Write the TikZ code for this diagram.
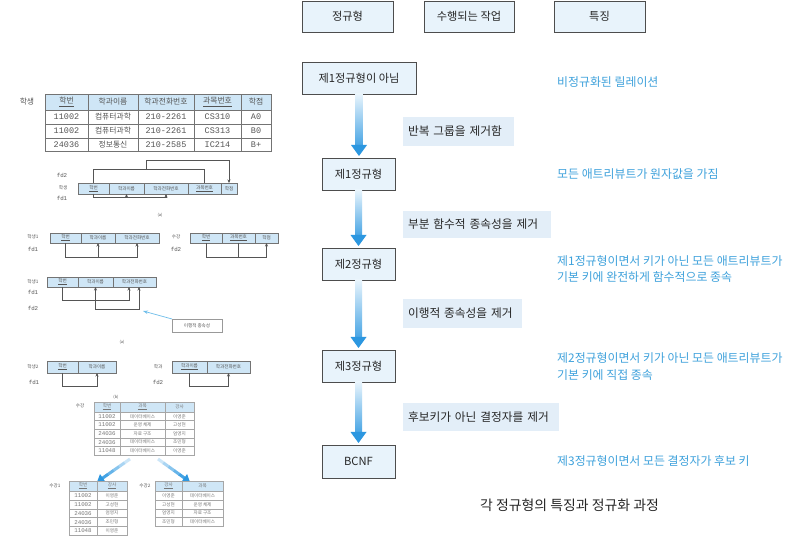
\documentclass[tikz,border=0pt]{standalone}
\usepackage{fontspec}
\setmainfont{Noto Sans CJK KR}
\newfontfamily\monof{Liberation Mono}
\usetikzlibrary{arrows.meta,calc}
\definecolor{lbfill}{HTML}{CFE6F6}
\definecolor{bxfill}{HTML}{E8F3FB}
\definecolor{actfill}{HTML}{E3EEF8}
\definecolor{bluetxt}{HTML}{3FA2DC}
\definecolor{arrdark}{HTML}{2C97E0}
\definecolor{arrlight}{HTML}{E8F4FC}
\definecolor{bordr}{HTML}{4D4D4D}
\definecolor{tgray}{HTML}{555555}
\definecolor{lgray}{HTML}{777777}
\definecolor{lbarrow}{HTML}{6DBDEA}
\newcommand\mkcell[7][]{\node[cellst,#1,minimum width={(#5-#3)*1pt},minimum height={(#6-#4)*1pt}] (#2) at ({(#3+#5)/2},{(#4+#6)/2}) {#7};}
\newcommand\bigarr[2]{%
  \shade[top color=arrlight,bottom color=arrdark!85!arrlight] let \p1=(#1.south), \p2=(#2.north) in (\x1-3.5pt,\y1) rectangle (\x1+3.5pt,\y2+12.5pt);
  \fill[arrdark] let \p1=(#1.south), \p2=(#2.north) in (\x1-8pt,\y2+13pt) -- (\x1+8pt,\y2+13pt) -- (\x1,\y2+2pt) -- cycle;}
\begin{document}
\begin{tikzpicture}[x=1pt,y=-1pt,
 cellst/.style={draw=gray!90!black,line width=0.5pt,inner sep=0pt,outer sep=0pt,text=tgray},
 hd/.style={fill=lbfill},
 kA/.style={font=\fontsize{7.8}{8}\selectfont},
 mA/.style={font=\monof\fontsize{8.5}{9}\selectfont},
 kB/.style={font=\fontsize{4.6}{5}\selectfont},
 mB/.style={font=\monof\fontsize{5.8}{6}\selectfont},
 lt/.style={draw=gray!70,text=lgray},
 lbl/.style={text=tgray,inner sep=0pt},
 fdl/.style={draw=tgray,line width=0.5pt},
 fda/.style={fdl,-{Stealth[length=3.5pt,width=3pt]}},
 rbox/.style={cellst,draw=bordr,line width=0.9pt,fill=bxfill,text=black!85,font=\fontsize{11.2}{12}\selectfont},
 actbox/.style={fill=actfill,inner xsep=5pt,inner ysep=0pt,align=left,text=black!85,font=\fontsize{11.7}{12}\selectfont},
 btxt/.style={text=bluetxt,anchor=west,inner sep=0pt,align=left,font=\fontsize{11.9}{16.5}\selectfont},
 capt/.style={lbl,font=\fontsize{4}{5}\selectfont}
]
\useasboundingbox (0,0) rectangle (796,537);
\fill[white] (0,0) rectangle (796,537);

%% ---------- Table 1 ----------
\node[lbl,kA] (t1l) at (27,102) {학생};
\mkcell[hd,kA]{h1}{45}{94}{88}{110}{\underline{학번}}
\mkcell[hd,kA]{h2}{88}{94}{138}{110}{학과이름}
\mkcell[hd,kA]{h3}{138}{94}{194}{110}{학과전화번호}
\mkcell[hd,kA]{h4}{194}{94}{241}{110}{\underline{과목번호}}
\mkcell[hd,kA]{h5}{241}{94}{271}{110}{학점}
\foreach \ri/\ya/\yb/\va/\vb/\vc/\vd/\ve in {1/110/124/11002/컴퓨터과학/210-2261/CS310/A0,2/124/138/11002/컴퓨터과학/210-2261/CS313/B0,3/138/151/24036/정보통신/210-2585/IC214/B+}{
 \mkcell[mA]{r\ri a}{45}{\ya}{88}{\yb}{\va}
 \mkcell[kA]{r\ri b}{88}{\ya}{138}{\yb}{\vb}
 \mkcell[mA]{r\ri c}{138}{\ya}{194}{\yb}{\vc}
 \mkcell[mA]{r\ri d}{194}{\ya}{241}{\yb}{\vd}
 \mkcell[mA]{r\ri e}{241}{\ya}{271}{\yb}{\ve}
}

%% ---------- (a) dependency diagram ----------
\node[lbl,mB] (afd2) at (62,175) {fd2};
\node[lbl,kB] (alb) at (63,188) {학생};
\node[lbl,mB] (afd1) at (62,198) {fd1};
\mkcell[hd,kB]{a1}{78}{183}{109}{194}{\underline{학번}}
\mkcell[hd,kB]{a2}{109}{183}{144}{194}{학과이름}
\mkcell[hd,kB]{a3}{144}{183}{188}{194}{학과전화번호}
\mkcell[hd,kB]{a4}{188}{183}{221}{194}{\underline{과목번호}}
\mkcell[hd,kB]{a5}{221}{183}{237}{194}{학점}
\coordinate (ya2) at (0,169);
\coordinate (ya3) at (0,160);
\coordinate (ya1) at (0,197);
\coordinate (am) at (146,169);
\draw[fdl] (a1.north) -- (a1.north |- ya2) -- (a4.north |- ya2) -- (a4.north);
\draw[fda] (am) -- (am |- ya3) -- (a5.north |- ya3) -- (a5.north);
\draw[fda] (a1.south) -- (a1.south |- ya1) -- (a3.south |- ya1) -- (a3.south);
\draw[fda] (a2.south |- ya1) -- (a2.south);
\node[capt] (capa1) at (160,215) {(a)};

%% ---------- 2NF ----------
\node[lbl,kB] (blb) at (33,237) {학생1};
\node[lbl,mB] (bfd1) at (33,249) {fd1};
\mkcell[hd,kB]{b1}{50}{233}{81}{243}{\underline{학번}}
\mkcell[hd,kB]{b2}{81}{233}{115}{243}{학과이름}
\mkcell[hd,kB]{b3}{115}{233}{159}{243}{학과전화번호}
\coordinate (yb1) at (0,257);
\draw[fda] (b1.south) -- (b1.south |- yb1) -- (b3.south |- yb1) -- (b3.south);
\draw[fda] (b2.south |- yb1) -- (b2.south);
\node[lbl,kB] (clb) at (176,237) {수강};
\node[lbl,mB] (cfd2) at (176,249) {fd2};
\mkcell[hd,kB]{c1}{190}{233}{222}{243}{\underline{학번}}
\mkcell[hd,kB]{c2}{222}{233}{255}{243}{\underline{과목번호}}
\mkcell[hd,kB]{c3}{255}{233}{278}{243}{학점}
\draw[fda] (c1.south) -- (c1.south |- yb1) -- (c3.south |- yb1) -- (c3.south);
\draw[fdl] (c2.south) -- (c2.south |- yb1);

%% ---------- transitive ----------
\node[lbl,kB] (dlb) at (33,282) {학생1};
\node[lbl,mB] (dfd1) at (33,292) {fd1};
\node[lbl,mB] (dfd2) at (33,308) {fd2};
\mkcell[hd,kB]{d1}{47}{277}{78}{287}{\underline{학번}}
\mkcell[hd,kB]{d2}{78}{277}{113}{287}{학과이름}
\mkcell[hd,kB]{d3}{113}{277}{156}{287}{학과전화번호}
\coordinate (yd1) at (0,300);
\coordinate (yd2) at (0,309);
\coordinate (d3a) at ($(d3.south)+(-5.5,0)$);
\coordinate (d3b) at ($(d3.south)+(4.5,0)$);
\draw[fda] (d1.south) -- (d1.south |- yd1) -- (d3a |- yd1) -- (d3a);
\draw[fda] (d2.south |- yd1) -- (d2.south);
\draw[fda] (d2.south |- yd1) -- (d2.south |- yd2) -- (d3b |- yd2) -- (d3b);
\mkcell[kB,draw=gray!80]{td}{172}{319}{222}{332}{이행적 종속성}
\coordinate (tdtip) at (143,311);
\draw[draw=lbarrow,line width=0.7pt,-{Stealth[length=5pt,width=3.5pt]}] (td.north west) -- (tdtip);
\node[capt] (capa2) at (122,342) {(a)};

%% ---------- (b) ----------
\node[lbl,kB] (elb) at (33,367) {학생2};
\node[lbl,mB] (efd1) at (34,382) {fd1};
\mkcell[hd,kB]{e1}{47}{361}{78}{373}{\underline{학번}}
\mkcell[hd,kB]{e2}{78}{361}{116}{373}{학과이름}
\coordinate (ye1) at (0,386);
\draw[fda] (e1.south) -- (e1.south |- ye1) -- (e2.south |- ye1) -- (e2.south);
\node[lbl,kB] (flb) at (158,367) {학과};
\node[lbl,mB] (ffd2) at (158,382) {fd2};
\mkcell[hd,kB]{f1}{172}{361}{207}{373}{\underline{학과이름}}
\mkcell[hd,kB]{f2}{207}{361}{250}{373}{학과전화번호}
\draw[fda] (f1.south) -- (f1.south |- ye1) -- (f2.south |- ye1) -- (f2.south);
\node[capt] (capb) at (116,397) {(b)};

%% ---------- 수강 tables ----------
\node[lbl,kB] (glb) at (80,406) {수강};
\mkcell[hd,kB,lt]{g1}{94}{402}{120}{412}{\underline{학번}}
\mkcell[hd,kB,lt]{g2}{120}{402}{165}{412}{\underline{과목}}
\mkcell[hd,kB,lt]{g3}{165}{402}{194}{412}{강사}
\foreach \ri/\ya/\yb/\va/\vb/\vc in {1/412/420.6/11002/데이터베이스/이영준,2/420.6/429.2/11002/운영 체제/고성현,3/429.2/437.8/24036/자료 구조/엄영지,4/437.8/446.4/24036/데이터베이스/조민형,5/446.4/455/11048/데이터베이스/이영준}{
 \mkcell[mB,lt]{g\ri a}{94}{\ya}{120}{\yb}{\va}
 \mkcell[kB,lt]{g\ri b}{120}{\ya}{165}{\yb}{\vb}
 \mkcell[kB,lt]{g\ri c}{165}{\ya}{194}{\yb}{\vc}
}
\coordinate (sA1) at (130,459);
\coordinate (sB1) at (97,482);
\coordinate (sA2) at (158,459);
\coordinate (sB2) at (190,482);
\foreach \ff/\tt in {sA1/sB1,sA2/sB2}{
 \foreach \i in {0,...,4}{
  \pgfmathsetmacro\pa{\i/6}
  \pgfmathsetmacro\pb{(\i+1)/6+0.01}
  \pgfmathsetmacro\cc{15+\i*18}
  \draw[line width=3pt,arrdark!\cc!arrlight] ($(\ff)!\pa!(\tt)$) -- ($(\ff)!\pb!(\tt)$);
 }
 \draw[line width=3pt,arrdark,-{Triangle[length=7pt,width=9pt]}] ($(\ff)!0.8333!(\tt)$) -- (\tt);
}
\node[lbl,kB] (hlb) at (55,486) {수강1};
\mkcell[hd,kB,lt]{k1}{69}{481}{97}{491}{\underline{학번}}
\mkcell[hd,kB,lt]{k2}{97}{481}{127}{491}{\underline{강사}}
\foreach \ri/\ya/\yb/\va/\vb in {1/491/499.9/11002/이영준,2/499.9/508.8/11002/고성현,3/508.8/517.7/24036/엄영지,4/517.7/526.6/24036/조민형,5/526.6/535.5/11048/이영준}{
 \mkcell[mB,lt]{k\ri a}{69}{\ya}{97}{\yb}{\va}
 \mkcell[kB,lt]{k\ri b}{97}{\ya}{127}{\yb}{\vb}
}
\node[lbl,kB] (mlb) at (145,486) {수강2};
\mkcell[hd,kB,lt]{m1}{155}{481}{182}{491}{\underline{강사}}
\mkcell[hd,kB,lt]{m2}{182}{481}{223}{491}{과목}
\foreach \ri/\ya/\yb/\va/\vb in {1/491/499.9/이영준/데이터베이스,2/499.9/508.8/고성현/운영 체제,3/508.8/517.7/엄영지/자료 구조,4/517.7/526.6/조민형/데이터베이스}{
 \mkcell[kB,lt]{m\ri a}{155}{\ya}{182}{\yb}{\va}
 \mkcell[kB,lt]{m\ri b}{182}{\ya}{223}{\yb}{\vb}
}

%% ---------- right side ----------
\mkcell[rbox]{hdA}{302}{1}{393}{32}{정규형}
\mkcell[rbox]{hdB}{424}{1}{514}{32}{수행되는 작업}
\mkcell[rbox]{hdC}{554}{1}{645}{32}{특징}
\mkcell[rbox]{nf0}{302}{62}{416}{94}{제1정규형이 아님}
\mkcell[rbox]{nf1}{322}{158}{395}{190}{제1정규형}
\mkcell[rbox]{nf2}{322}{248}{395}{280}{제2정규형}
\mkcell[rbox]{nf3}{322}{350}{395}{382}{제3정규형}
\mkcell[rbox]{bc}{322}{445}{395}{478}{BCNF}
\bigarr{nf0}{nf1}
\bigarr{nf1}{nf2}
\bigarr{nf2}{nf3}
\bigarr{nf3}{bc}
\node[actbox,text width=101pt,minimum height=29pt] (ac1) at (458.5,131.5) {반복 그룹을 제거함};
\node[actbox,text width=138pt,minimum height=27pt] (ac2) at (477,224.5) {부분 함수적 종속성을 제거};
\node[actbox,text width=109pt,minimum height=29pt] (ac3) at (462.5,313.5) {이행적 종속성을 제거};
\node[actbox,text width=146pt,minimum height=28pt] (ac4) at (481,417) {후보키가 아닌 결정자를 제거};
\node[btxt] (ch0) at (557,82) {비정규화된 릴레이션};
\node[btxt] (ch1) at (557,174) {모든 애트리뷰트가 원자값을 가짐};
\node[btxt] (ch2) at (557,269) {제1정규형이면서 키가 아닌 모든 애트리뷰트가\\기본 키에 완전하게 함수적으로 종속};
\node[btxt] (ch3) at (557,366.5) {제2정규형이면서 키가 아닌 모든 애트리뷰트가\\기본 키에 직접 종속};
\node[btxt] (ch4) at (557,461) {제3정규형이면서 모든 결정자가 후보 키};
\node[lbl,text=black!85,font=\fontsize{13.9}{15}\selectfont] (cap) at (569.5,505) {각 정규형의 특징과 정규화 과정};
\end{tikzpicture}
\end{document}
